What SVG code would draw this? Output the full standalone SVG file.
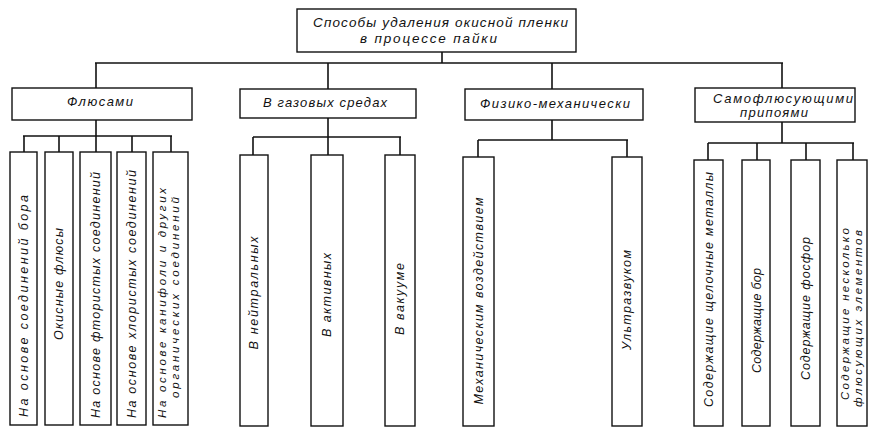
<svg xmlns="http://www.w3.org/2000/svg" width="869" height="429" viewBox="0 0 869 429">
<style>
.box{fill:#fff;stroke:#111;stroke-width:1.4}
.con line{stroke:#111;stroke-width:1.6}
text{font-family:"Liberation Sans",Arial,sans-serif;font-style:italic;fill:#111}
.t1{font-size:13.5px}
.t2{font-size:13px}
.lf{font-size:12.5px}
.lf2{font-size:11.5px}
</style>
<rect width="869" height="429" fill="#fff"/>
<g id="connectors" class="con">
<line x1="442" y1="52" x2="442" y2="63"/>
<line x1="95" y1="63" x2="783" y2="63"/>
<line x1="96" y1="63" x2="96" y2="88"/>
<line x1="328" y1="63" x2="328" y2="89"/>
<line x1="552" y1="63" x2="552" y2="89"/>
<line x1="782" y1="63" x2="782" y2="88"/>
<line x1="96" y1="120" x2="96" y2="136"/>
<line x1="23" y1="136" x2="172" y2="136"/>
<line x1="24" y1="136" x2="24" y2="152"/>
<line x1="59" y1="136" x2="59" y2="152"/>
<line x1="96" y1="136" x2="96" y2="152"/>
<line x1="132" y1="136" x2="132" y2="152"/>
<line x1="171" y1="136" x2="171" y2="152"/>
<line x1="328" y1="118" x2="328" y2="155"/>
<line x1="253" y1="137" x2="401" y2="137"/>
<line x1="253" y1="137" x2="253" y2="155"/>
<line x1="400" y1="137" x2="400" y2="155"/>
<line x1="552" y1="120" x2="552" y2="140"/>
<line x1="478" y1="140" x2="628" y2="140"/>
<line x1="478" y1="140" x2="478" y2="157"/>
<line x1="627" y1="140" x2="627" y2="157"/>
<line x1="782" y1="122" x2="782" y2="143"/>
<line x1="708" y1="143" x2="854" y2="143"/>
<line x1="708" y1="143" x2="708" y2="160"/>
<line x1="757" y1="143" x2="757" y2="160"/>
<line x1="806" y1="143" x2="806" y2="160"/>
<line x1="853" y1="143" x2="853" y2="160"/>
</g>
<g id="root">
<rect class="box" x="297" y="9" width="279" height="43"/>
<text class="t1" x="313" y="27" textLength="255" lengthAdjust="spacing">Способы удаления окисной пленки</text>
<text class="t1" x="360" y="43" textLength="137" lengthAdjust="spacing">в процессе пайки</text>
</g>
<g id="fluxes">
<rect class="box" x="12" y="88" width="180" height="32"/>
<text class="t2" x="67" y="106" textLength="66" lengthAdjust="spacing">Флюсами</text>
</g>
<g id="gas">
<rect class="box" x="240" y="89" width="176" height="29"/>
<text class="t2" x="263" y="107" textLength="124" lengthAdjust="spacing">В газовых средах</text>
</g>
<g id="phys">
<rect class="box" x="465" y="89" width="178" height="31"/>
<text class="t2" x="480" y="108" textLength="150" lengthAdjust="spacing">Физико-механически</text>
</g>
<g id="selfflux">
<rect class="box" x="695" y="88" width="160" height="34"/>
<text class="t2" x="713" y="103" textLength="140" lengthAdjust="spacing">Самофлюсующими</text>
<text class="t2" x="740" y="117" textLength="68" lengthAdjust="spacing">припоями</text>
</g>
<g id="leaf1">
<rect class="box" x="10" y="152" width="27" height="273"/>
<text class="lf" transform="translate(28,417) rotate(-90)" textLength="222" lengthAdjust="spacing">На основе соединений бора</text>
</g>
<g id="leaf2">
<rect class="box" x="45" y="152" width="28" height="273"/>
<text class="lf" transform="translate(63,284) rotate(-90)" text-anchor="middle" textLength="112" lengthAdjust="spacing">Окисные флюсы</text>
</g>
<g id="leaf3">
<rect class="box" x="80" y="152" width="31" height="273"/>
<text class="lf" transform="translate(100,418) rotate(-90)" textLength="246" lengthAdjust="spacing">На основе фтористых соединений</text>
</g>
<g id="leaf4">
<rect class="box" x="117" y="152" width="29" height="273"/>
<text class="lf" transform="translate(136,418) rotate(-90)" textLength="248" lengthAdjust="spacing">На основе хлористых соединений</text>
</g>
<g id="leaf5">
<rect class="box" x="153" y="152" width="35" height="273"/>
<text class="lf2" transform="translate(166,418) rotate(-90)" textLength="230" lengthAdjust="spacing">На основе канифоли и других</text>
<text class="lf2" transform="translate(179,398) rotate(-90)" textLength="201" lengthAdjust="spacing">органических соединений</text>
</g>
<g id="leaf6">
<rect class="box" x="240" y="155" width="28" height="271"/>
<text class="lf" transform="translate(258,293) rotate(-90)" text-anchor="middle" textLength="113" lengthAdjust="spacing">В нейтральных</text>
</g>
<g id="leaf7">
<rect class="box" x="311" y="155" width="32" height="271"/>
<text class="lf" transform="translate(331,295) rotate(-90)" text-anchor="middle" textLength="84" lengthAdjust="spacing">В активных</text>
</g>
<g id="leaf8">
<rect class="box" x="385" y="155" width="30" height="271"/>
<text class="lf" transform="translate(404,299) rotate(-90)" text-anchor="middle" textLength="72" lengthAdjust="spacing">В вакууме</text>
</g>
<g id="leaf9">
<rect class="box" x="463" y="157" width="31" height="269"/>
<text class="lf" transform="translate(483,301) rotate(-90)" text-anchor="middle" textLength="207" lengthAdjust="spacing">Механическим воздействием</text>
</g>
<g id="leaf10">
<rect class="box" x="612" y="157" width="30" height="269"/>
<text class="lf" transform="translate(631,300) rotate(-90)" text-anchor="middle" textLength="100" lengthAdjust="spacing">Ультразвуком</text>
</g>
<g id="leaf11">
<rect class="box" x="694" y="160" width="29" height="266"/>
<text class="lf" transform="translate(713,407) rotate(-90)" textLength="235" lengthAdjust="spacing">Содержащие щелочные металлы</text>
</g>
<g id="leaf12">
<rect class="box" x="742" y="160" width="28" height="266"/>
<text class="lf" transform="translate(761,373) rotate(-90)" textLength="105" lengthAdjust="spacing">Содержащие бор</text>
</g>
<g id="leaf13">
<rect class="box" x="791" y="160" width="29" height="266"/>
<text class="lf" transform="translate(810,380) rotate(-90)" textLength="143" lengthAdjust="spacing">Содержащие фосфор</text>
</g>
<g id="leaf14">
<rect class="box" x="837" y="160" width="30" height="266"/>
<text class="lf2" transform="translate(849,400) rotate(-90)" textLength="172" lengthAdjust="spacing">Содержащие несколько</text>
<text class="lf2" transform="translate(862,407) rotate(-90)" textLength="177" lengthAdjust="spacing">флюсующих элементов</text>
</g>
</svg>
